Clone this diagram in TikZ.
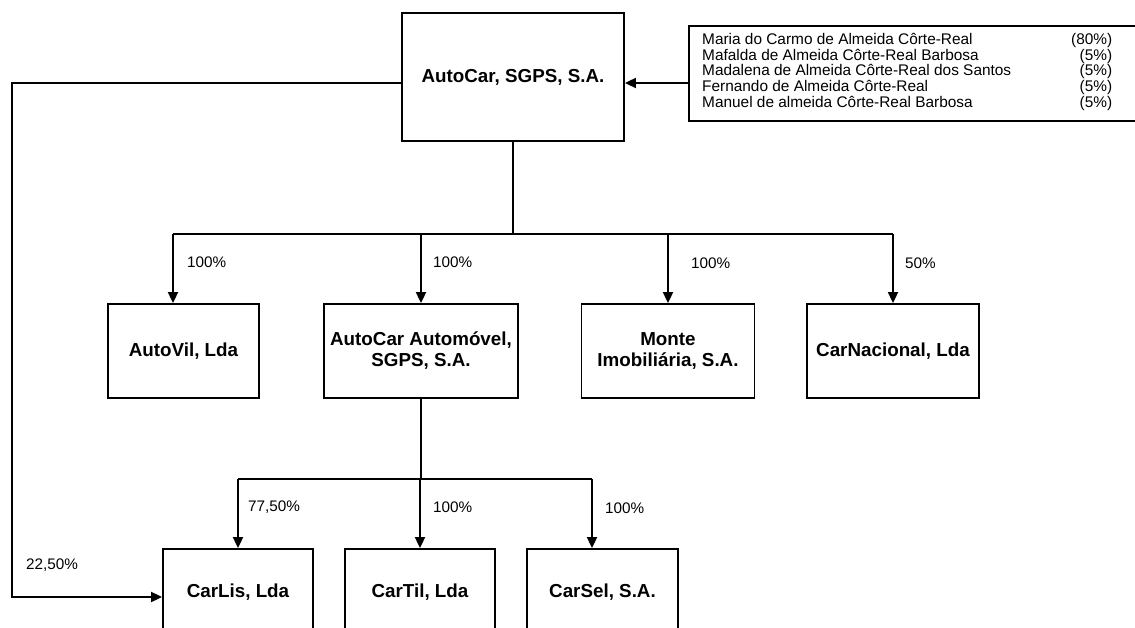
\documentclass[tikz,border=0pt]{standalone}
\usepackage{fontspec}
\setmainfont{Liberation Sans}
\usetikzlibrary{arrows.meta}
\tikzset{
  firma/.style={draw, line width=1.8pt, align=center, inner sep=0pt,
    font=\fontsize{18.8}{21}\selectfont\bfseries, minimum height=94pt},
  perc/.style={anchor=west, inner sep=0pt, font=\fontsize{15.3}{15}\selectfont},
  linha/.style={line width=1.8pt},
  seta/.style={line width=1.8pt, -{Triangle[length=11pt,width=10pt]}}
}

\begin{document}
\begin{tikzpicture}[x=1pt,y=-1pt]
\useasboundingbox (0,0) rectangle (1135,628);

% holding e accionistas
\node[firma, minimum width=222pt, minimum height=128pt] (autocar) at (513,77) {AutoCar, SGPS, S.A.};
\node[draw, line width=1.8pt, anchor=north west, minimum width=452pt, minimum height=95pt] (socios) at (688,25) {};
\node[anchor=north west, inner sep=0pt, font=\fontsize{15.4}{15}\selectfont] (lista) at (702,33) {%
  \begin{tabular*}{410pt}{@{}l@{\extracolsep{\fill}}r@{}}
  Maria do Carmo de Almeida Côrte-Real & (80\%)\\
  Mafalda de Almeida Côrte-Real Barbosa & (5\%)\\
  Madalena de Almeida Côrte-Real dos Santos & (5\%)\\
  Fernando de Almeida Côrte-Real & (5\%)\\
  Manuel de almeida Côrte-Real Barbosa & (5\%)
  \end{tabular*}};

% participadas directas
\node[firma, minimum width=151pt] (autovil) at (183.5,351) {AutoVil, Lda};
\node[firma, minimum width=194pt] (automovel) at (421,351) {AutoCar Automóvel,\\SGPS, S.A.};
\node[firma, minimum width=173pt] (monte) at (668,351) {Monte\\Imobiliária, S.A.};
\node[firma, minimum width=172pt] (carnacional) at (893,351) {CarNacional, Lda};

% participadas indirectas
\node[firma, minimum width=150pt, minimum height=86pt] (carlis) at (238,592) {CarLis, Lda};
\node[firma, minimum width=150pt, minimum height=86pt] (cartil) at (420,592) {CarTil, Lda};
\node[firma, minimum width=151pt, minimum height=86pt] (carsel) at (602.5,592) {CarSel, S.A.};

% pontos de ligacao
\coordinate (nivel) at (0,83);
\coordinate (esq) at (12,83);
\coordinate (esqb) at (12,597);
\coordinate (barra1) at (0,234);
\coordinate (barra2) at (0,479);
\coordinate (tvil) at (173,234);
\coordinate (tsel) at (592,479);

\draw[seta] (socios.west |- nivel) -- (autocar.east |- nivel);
\draw[seta] (autocar.west |- nivel) -- (esq) -- (esqb) -- (carlis.west |- esqb);

\draw[linha] (autocar.south) -- (autocar.south |- barra1);
\draw[linha] (tvil) -- (carnacional.north |- barra1);
\draw[seta] (tvil) -- (autovil.north -| tvil);
\draw[seta] (automovel.north |- barra1) -- (automovel.north);
\draw[seta] (monte.north |- barra1) -- (monte.north);
\draw[seta] (carnacional.north |- barra1) -- (carnacional.north);

\draw[linha] (automovel.south) -- (automovel.south |- barra2);
\draw[linha] (carlis.north |- barra2) -- (tsel);
\draw[seta] (carlis.north |- barra2) -- (carlis.north);
\draw[seta] (cartil.north |- barra2) -- (cartil.north);
\draw[seta] (tsel) -- (carsel.north -| tsel);

% percentagens
\node[perc] (pvil) at (187,262) {100\%};
\node[perc] (pmovel) at (433,262) {100\%};
\node[perc] (pmonte) at (691,263) {100\%};
\node[perc] (pnac) at (905,263) {50\%};
\node[perc] (plis) at (248,507) {77,50\%};
\node[perc] (ptil) at (433,507) {100\%};
\node[perc] (psel) at (605,508) {100\%};
\node[perc] (plisb) at (26,565) {22,50\%};
\end{tikzpicture}
\end{document}
